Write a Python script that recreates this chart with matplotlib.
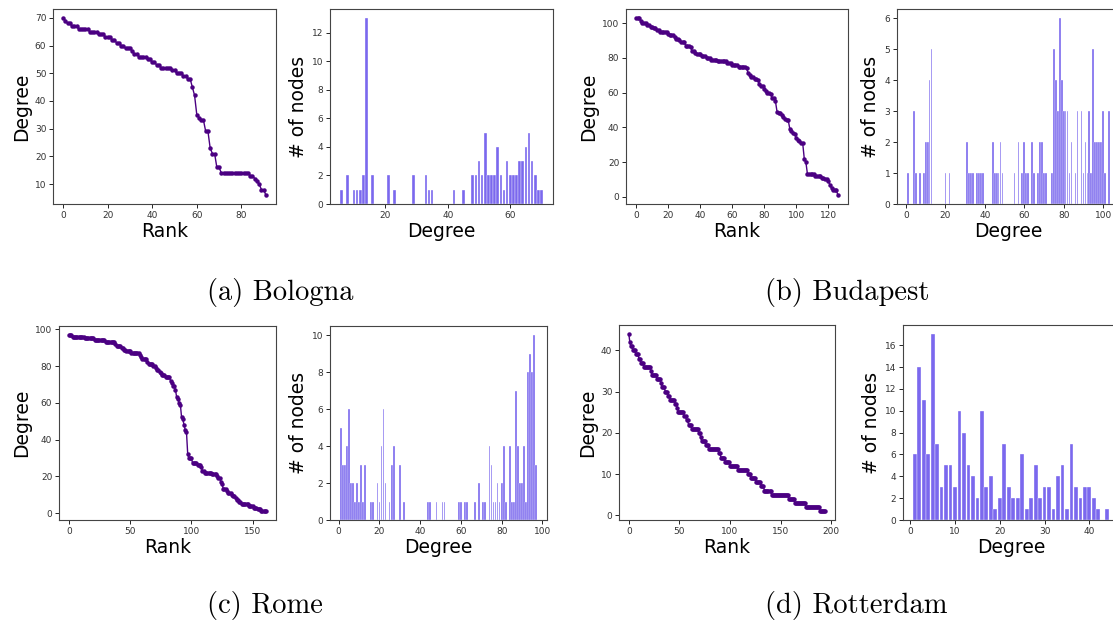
import numpy as np
import matplotlib.pyplot as plt
from matplotlib.ticker import MultipleLocator

# degree -> number of nodes
bologna_deg = [6, 8, 10, 11, 12, 13, 14, 16, 21, 23, 29, 33, 34, 35, 42, 45,
               48, 49, 50, 51, 52, 53, 54, 55, 56, 57, 58, 59, 60, 61, 62, 63,
               64, 65, 66, 67, 68, 69, 70]
bologna_cnt = [1, 2, 1, 1, 1, 2, 13, 2, 2, 1, 2, 2, 1, 1, 1, 1,
               2, 2, 3, 2, 5, 2, 2, 2, 4, 2, 1, 3, 2, 2, 2, 3,
               3, 4, 5, 3, 2, 1, 1]

budapest_deg = [1, 4, 5, 7, 9, 10, 11, 12, 13, 20, 22, 31, 32, 33, 34, 36, 37,
                38, 39, 44, 45, 46, 47, 48, 49, 55, 57, 59, 60, 61, 62, 64, 65,
                67, 68, 69, 70, 71, 74, 75, 76, 77, 78, 79, 80, 81, 82, 83, 84,
                86, 87, 89, 90, 91, 92, 93, 94, 95, 96, 97, 98, 99, 100, 101, 103]
budapest_cnt = [1, 3, 1, 1, 1, 2, 2, 4, 5, 1, 1, 2, 1, 1, 1, 1, 1,
                1, 1, 2, 1, 1, 1, 2, 1, 1, 2, 1, 2, 1, 1, 2, 1,
                1, 2, 2, 1, 1, 1, 5, 4, 3, 6, 4, 3, 3, 3, 1, 2,
                1, 3, 3, 1, 2, 1, 3, 1, 5, 2, 2, 2, 2, 3, 1, 3]

rome_deg = [1, 2, 3, 4, 5, 6, 7, 8, 9, 10, 11, 12, 13, 16, 17, 19, 20, 21, 22,
            23, 25, 26, 27, 30, 32, 44, 45, 48, 51, 52, 59, 60, 62, 63, 67, 69,
            71, 72, 74, 75, 76, 77, 78, 79, 80, 81, 82, 84, 85, 86, 87, 88, 89,
            90, 91, 92, 93, 94, 95, 96, 97]
rome_cnt = [5, 3, 3, 4, 6, 2, 2, 1, 2, 1, 3, 1, 3, 1, 1, 2, 1, 4, 6,
            2, 1, 3, 4, 3, 1, 1, 1, 1, 1, 1, 1, 1, 1, 1, 1, 2,
            1, 1, 4, 3, 1, 1, 2, 1, 2, 4, 1, 4, 1, 1, 7, 4, 2,
            2, 4, 1, 8, 9, 8, 10, 3]

rotterdam_deg = list(range(1, 43)) + [44]
rotterdam_cnt = [6, 14, 11, 6, 17, 7, 3, 5, 5, 3, 10, 8, 5, 4, 2, 10, 3, 4, 1,
                 2, 7, 3, 2, 2, 6, 1, 2, 5, 2, 3, 3, 1, 4, 5, 1, 7, 3, 2, 3,
                 3, 2, 1, 1]

cities = ['(a) Bologna', '(b) Budapest', '(c) Rome', '(d) Rotterdam']
data = [(bologna_deg, bologna_cnt), (budapest_deg, budapest_cnt),
        (rome_deg, rome_cnt), (rotterdam_deg, rotterdam_cnt)]

W, H = 1113, 623
fig = plt.figure(figsize=(W / 100, H / 100), dpi=100)


def px(x0, x1, y0, y1):
    return [x0 / W, 1 - y1 / H, (x1 - x0) / W, (y1 - y0) / H]


# pixel boxes (rank axes, histogram axes) for each panel
boxes = [
    (px(53, 276, 9, 204), px(330, 553, 9, 204)),
    (px(626, 848, 9, 204), px(897, 1120, 9, 204)),
    (px(59, 276, 326, 520), px(330, 547, 326, 520)),
    (px(619, 835, 325, 520), px(903, 1119, 325, 520)),
]
rank_step = [20, 20, 50, 50]
hist_xstep = [20, 20, 20, 10]
hist_ystep = [2, 1, 2, 2]
caption_xy = [(207, 292), (765, 292), (207, 606), (765, 606)]

for i, (deg, cnt) in enumerate(data):
    seq = np.sort(np.repeat(deg, cnt))[::-1]

    ax = fig.add_axes(boxes[i][0])
    ax.plot(np.arange(len(seq)), seq, color='indigo', lw=1,
            marker='o', ms=2.2)
    ax.set_xlabel('Rank', fontsize=13.5, labelpad=2)
    ax.set_ylabel('Degree', fontsize=13.5, labelpad=3)
    ax.xaxis.set_major_locator(MultipleLocator(rank_step[i]))

    ax2 = fig.add_axes(boxes[i][1])
    ax2.bar(deg, cnt, width=0.85, color='mediumslateblue',
            edgecolor='white', linewidth=0.25)
    ax2.set_xlabel('Degree', fontsize=13.5, labelpad=2)
    ax2.set_ylabel('# of nodes', fontsize=13.5, labelpad=3)
    ax2.xaxis.set_major_locator(MultipleLocator(hist_xstep[i]))
    ax2.yaxis.set_major_locator(MultipleLocator(hist_ystep[i]))

    for a in (ax, ax2):
        a.tick_params(labelsize=6.5, length=2.8, width=0.6,
                      labelcolor='#333333', pad=2)
        for s in a.spines.values():
            s.set_linewidth(0.8)
            s.set_color('#444444')

    cx, cy = caption_xy[i]
    fig.text(cx / W, 1 - cy / H, cities[i], fontsize=20.5,
             family=['cmr10', 'DejaVu Serif'], ha='left', va='center')

fig.savefig('out.png', dpi=100)
